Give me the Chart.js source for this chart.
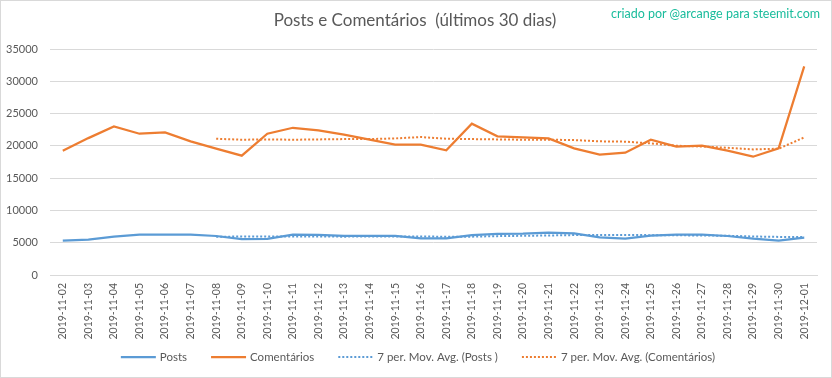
<!DOCTYPE html>
<html>
<head>
<meta charset="utf-8">
<script src="https://cdn.jsdelivr.net/npm/chart.js@4"></script>
<style>
html,body{margin:0;padding:0;background:#fff;}
#wrap{position:relative;width:832px;height:378px;}
#credit{position:absolute;right:12px;top:6px;font-family:Lato,"Open Sans",sans-serif;font-size:12.5px;color:#1abc9c;white-space:nowrap;}
</style>
</head>
<body>
<div id="wrap">
<canvas id="c" width="832" height="378"></canvas>
<div id="credit">criado por @arcange para steemit.com</div>
</div>
<script>
const categories = ["2019-11-02","2019-11-03","2019-11-04","2019-11-05","2019-11-06","2019-11-07","2019-11-08","2019-11-09","2019-11-10","2019-11-11","2019-11-12","2019-11-13","2019-11-14","2019-11-15","2019-11-16","2019-11-17","2019-11-18","2019-11-19","2019-11-20","2019-11-21","2019-11-22","2019-11-23","2019-11-24","2019-11-25","2019-11-26","2019-11-27","2019-11-28","2019-11-29","2019-11-30","2019-12-01"];
const posts = [5310,5470,5930,6240,6240,6240,6040,5570,5600,6240,6200,6040,6040,6040,5670,5670,6190,6350,6400,6550,6450,5830,5620,6090,6240,6240,6040,5620,5310,5780];
const comentarios = [19250,21200,23000,21880,22090,20700,19560,18480,21880,22800,22400,21730,20950,20180,20180,19300,23430,21470,21310,21160,19610,18630,18940,20950,19870,20020,19250,18320,19610,32310];
const maPosts = [null,null,null,null,null,null,5920,5960,5970,5970,5960,5940,5960,5960,5970,5920,5940,6020,6070,6120,6180,6200,6200,6170,6150,6120,6080,5960,5900,5900];
const maComentarios = [null,null,null,null,null,null,21100,20950,21000,20950,21000,21050,21050,21150,21370,21100,21050,21000,20950,20950,20900,20700,20650,20380,20020,19900,19700,19450,19560,21310];
const yTicks = [0,5000,10000,15000,20000,25000,30000,35000];
const seriesNames = ["Posts","Comentários","7 per. Mov. Avg. (Posts )","7 per. Mov. Avg. (Comentários)"];
const titleText = "Posts e Comentários  (últimos 30 dias)";

const FONT = 'Lato, "Open Sans", sans-serif';
const BLUE = '#5b9bd5', ORANGE = '#ed7d31', TXT = '#595959', GRID = '#d9d9d9';

const extras = {
  id: 'extras',
  afterDraw(chart) {
    const ctx = chart.ctx;
    ctx.save();
    ctx.strokeStyle = GRID; ctx.lineWidth = 1;
    ctx.strokeRect(0.5, 0.5, 831, 377);
    ctx.fillStyle = TXT;
    ctx.font = '17px ' + FONT;
    ctx.textAlign = 'center'; ctx.textBaseline = 'middle';
    ctx.fillText(titleText, 415, 21);
    ctx.font = '11.5px ' + FONT;
    const items = chart.data.datasets.map(d => ({label: d.label, color: d.borderColor, dash: d.borderDash || [], w: d.borderWidth}));
    const lineW = 35, gap1 = 4, gap2 = 24;
    let total = 0;
    items.forEach((it, i) => { it.tw = ctx.measureText(it.label).width; total += lineW + gap1 + it.tw + (i < items.length - 1 ? gap2 : 0); });
    let x = 418 - total / 2;
    const y = 357;
    ctx.textAlign = 'left';
    items.forEach(it => {
      ctx.beginPath();
      ctx.strokeStyle = it.color; ctx.lineWidth = it.w; ctx.setLineDash(it.dash);
      ctx.moveTo(x, y); ctx.lineTo(x + lineW, y); ctx.stroke();
      ctx.setLineDash([]);
      ctx.fillStyle = TXT;
      ctx.fillText(it.label, x + lineW + gap1, y);
      x += lineW + gap1 + it.tw + gap2;
    });
    ctx.restore();
  }
};

new Chart(document.getElementById('c'), {
  type: 'line',
  data: {
    labels: categories,
    datasets: [
      {label: seriesNames[0], data: posts, borderColor: BLUE, borderWidth: 2.25, pointRadius: 0, tension: 0, order: 2},
      {label: seriesNames[1], data: comentarios, borderColor: ORANGE, borderWidth: 2.25, pointRadius: 0, tension: 0, order: 2},
      {label: seriesNames[2], data: maPosts, borderColor: BLUE, borderWidth: 2, borderDash: [2, 2], pointRadius: 0, tension: 0, spanGaps: false, order: 1},
      {label: seriesNames[3], data: maComentarios, borderColor: ORANGE, borderWidth: 2, borderDash: [2, 2], pointRadius: 0, tension: 0, spanGaps: false, order: 1}
    ]
  },
  options: {
    responsive: false,
    animation: false,
    layout: {padding: {top: 49, right: 15, bottom: 33, left: 0}},
    plugins: {legend: {display: false}, title: {display: false}, tooltip: {enabled: false}},
    scales: {
      x: {
        offset: true,
        grid: {display: false, drawTicks: false},
        border: {display: true, color: GRID, width: 1},
        ticks: {color: TXT, font: {family: FONT, size: 10.5}, minRotation: 90, maxRotation: 90, autoSkip: false, padding: 8},
        afterFit(s) { s.height = 70; }
      },
      y: {
        min: 0, max: 35000,
        grid: {color: GRID, lineWidth: 1, drawTicks: false},
        border: {display: false},
        afterBuildTicks(s) { s.ticks = yTicks.map(v => ({value: v})); },
        ticks: {color: TXT, font: {family: FONT, size: 11}, padding: 12, callback: v => String(v)},
        afterFit(s) { s.width = 50; }
      }
    }
  },
  plugins: [extras]
});
</script>
</body>
</html>
